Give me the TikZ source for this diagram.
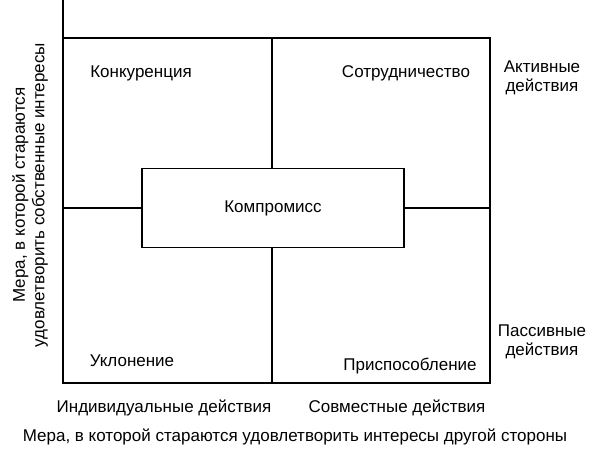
\documentclass[tikz,border=0pt]{standalone}
\usepackage{fontspec}
\setmainfont{Liberation Sans}
\begin{document}
\begin{tikzpicture}[x=1pt,y=-1pt,line width=1.3pt,
  lbl/.style={inner sep=0pt,font=\fontsize{17}{19.5}\selectfont,align=center}]
\useasboundingbox (0,0) rectangle (600,453);
\coordinate (top) at (63,0);
\coordinate (bl) at (63,383);
\coordinate (tl) at (63,38);
\coordinate (tr) at (490,38);
\coordinate (br) at (490,383);
\draw (top) -- (bl) -- (br) -- (tr) -- (tl);
\node[draw,minimum width=262pt,minimum height=79pt,line width=1.3pt,lbl] (c) at (273,208) {Компромисс};
\draw (272,38) -- (c.north -| 272,0);
\draw (c.south -| 272,0) -- (272,383);
\draw (63,208) -- (c.west);
\draw (c.east) -- (490,208);
\node[lbl] (k) at (141,73) {Конкуренция};
\node[lbl] (s) at (406,73) {Сотрудничество};
\node[lbl] (u) at (132,361) {Уклонение};
\node[lbl] (p) at (410,366) {Приспособление};
\node[lbl] (a) at (542,78) {Активные\\действия};
\node[lbl] (pa) at (542,342) {Пассивные\\действия};
\node[lbl] (i) at (164,408) {Индивидуальные действия};
\node[lbl] (sd) at (397,408) {Совместные действия};
\node[lbl] (x) at (295,437) {Мера, в которой стараются удовлетворить интересы другой стороны};
\node[lbl,rotate=90] (y) at (30,195) {Мера, в которой стараются\\удовлетворить собственные интересы};
\end{tikzpicture}
\end{document}
